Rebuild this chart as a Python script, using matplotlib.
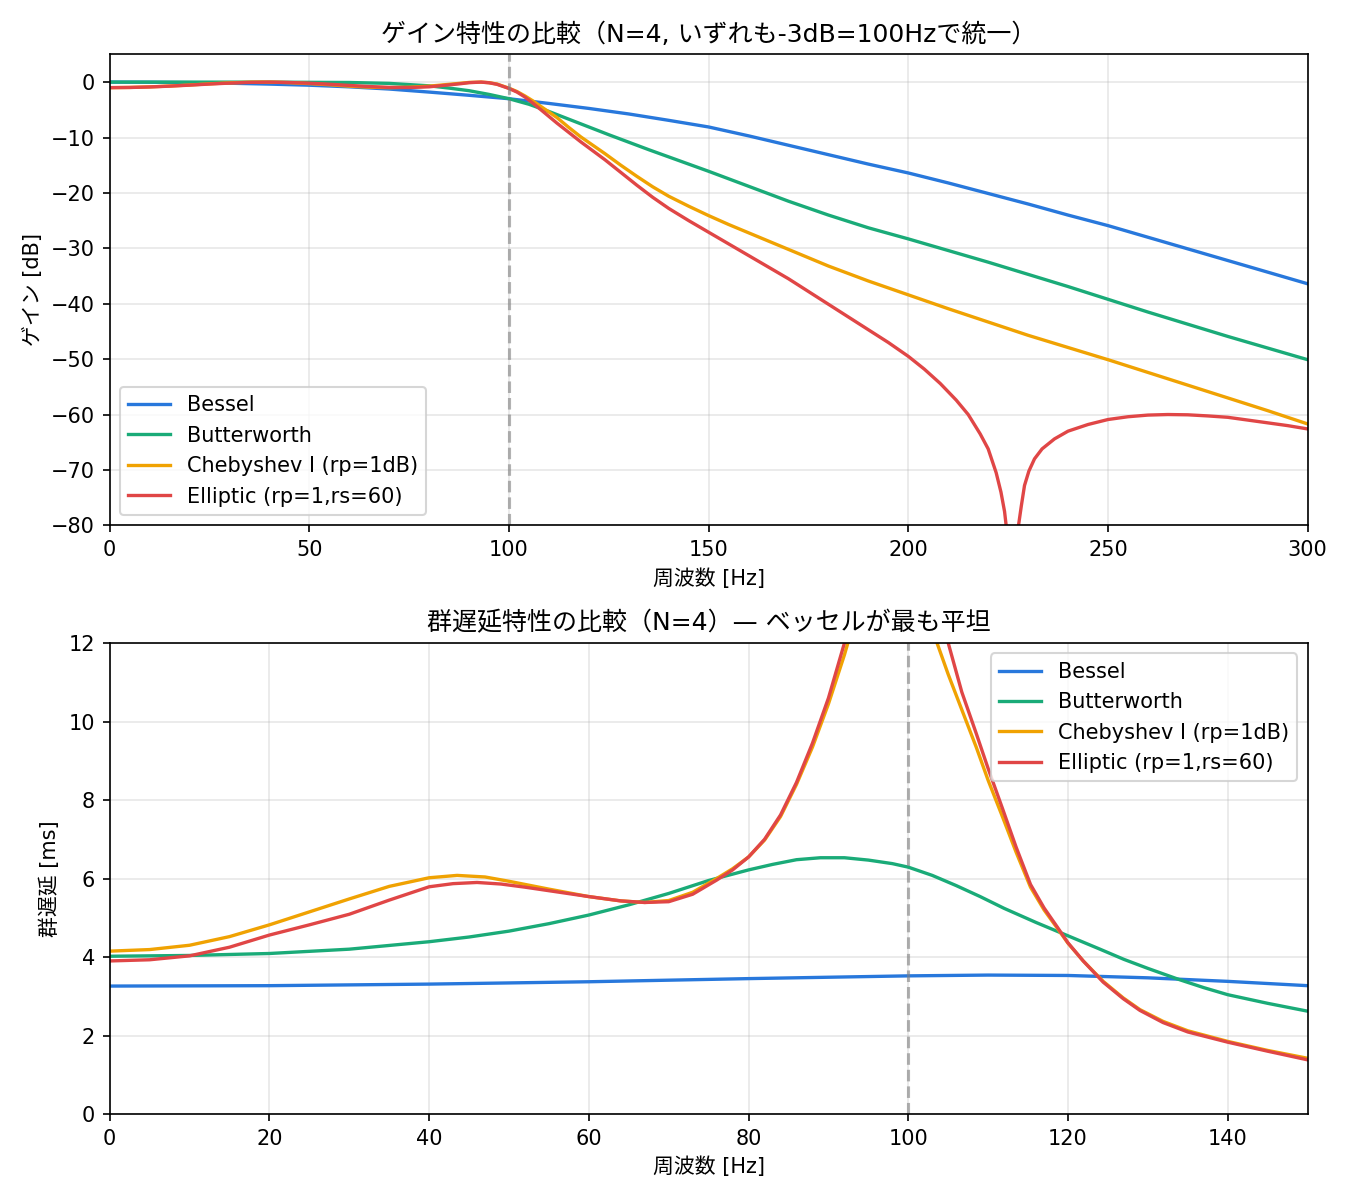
import matplotlib
matplotlib.use('Agg')
import matplotlib.pyplot as plt

# latin en DejaVu, japonais en Noto CJK
plt.rcParams['font.family'] = ['DejaVu Sans', 'Noto Sans CJK JP']
plt.rcParams['axes.unicode_minus'] = True

# couleurs
C_BESSEL = '#2878dc'
C_BUTTER = '#1aab78'
C_CHEBY = '#f0a202'
C_ELLIP = '#e04646'

LABELS = ['Bessel', 'Butterworth', 'Chebyshev I (rp=1dB)', 'Elliptic (rp=1,rs=60)']

# ---- gain [dB] ----
f_bes_g = [0, 10, 20, 30, 40, 50, 60, 70, 80, 90, 100, 110, 120, 130, 140, 150, 160, 170,
           180, 190, 200, 210, 220, 230, 240, 250, 260, 270, 280, 290, 300]
g_bes = [0, -0.02, -0.09, -0.2, -0.36, -0.56, -0.85, -1.25, -1.8, -2.38, -3.0, -3.85, -4.75,
         -5.75, -6.9, -8.1, -9.7, -11.4, -13.1, -14.8, -16.4, -18.2, -20.1, -22.0, -24.0,
         -25.9, -28.0, -30.1, -32.2, -34.3, -36.4]

f_but_g = [0, 20, 40, 60, 70, 80, 85, 90, 95, 100, 105, 110, 115, 120, 125, 130, 135, 140,
           145, 150, 160, 170, 180, 190, 200, 210, 220, 230, 240, 250, 260, 270, 280, 290, 300]
g_but = [0, 0, -0.01, -0.07, -0.23, -0.67, -1.08, -1.55, -2.22, -3.0, -4.0, -5.3, -6.7, -8.1,
         -9.5, -10.85, -12.2, -13.5, -14.8, -16.1, -18.8, -21.5, -24.0, -26.3, -28.3, -30.4,
         -32.5, -34.7, -36.9, -39.2, -41.5, -43.7, -45.9, -48.0, -50.1]

f_che_g = [0, 5, 10, 15, 20, 25, 30, 35, 38, 42, 45, 50, 55, 60, 65, 70, 75, 80, 85, 90, 93,
           95, 97, 100, 102, 104, 106, 108, 110, 112, 115, 118, 121, 124, 128, 132, 136, 140,
           145, 150, 155, 160, 170, 180, 190, 200, 210, 220, 230, 240, 250, 260, 270, 280,
           290, 300]
g_che = [-1.0, -0.96, -0.86, -0.71, -0.52, -0.31, -0.13, -0.02, 0, -0.03, -0.1, -0.27, -0.48,
         -0.73, -0.92, -1.0, -0.92, -0.73, -0.4, -0.06, 0, -0.1, -0.35, -1.1, -1.7, -2.5,
         -3.4, -4.4, -5.4, -6.4, -8.2, -9.9, -11.4, -12.9, -15.0, -17.0, -18.9, -20.6, -22.4,
         -24.1, -25.7, -27.2, -30.2, -33.2, -35.9, -38.4, -40.9, -43.3, -45.7, -47.9, -50.1,
         -52.4, -54.7, -57.0, -59.3, -61.7]

f_ell_g = [0, 5, 10, 15, 20, 25, 30, 35, 40, 45, 50, 55, 60, 65, 70, 75, 80, 85, 88, 90, 93,
           95, 97, 100, 102, 104, 106, 108, 110, 112, 115, 118, 121, 124, 128, 132, 136, 140,
           145, 150, 155, 160, 165, 170, 175, 180, 185, 190, 195, 200, 204, 208, 212, 215,
           218, 220, 222, 223.2, 224.1, 225.3, 226.2, 227.1, 227.6, 228.3, 229.1, 230.2,
           231.6, 233.5, 236.6, 240, 245, 250, 255, 260, 265, 270, 275, 280, 285, 290, 295, 300]
g_ell = [-1.0, -0.97, -0.88, -0.73, -0.55, -0.35, -0.18, -0.05, 0, -0.07, -0.2, -0.38, -0.6,
         -0.8, -0.95, -0.98, -0.85, -0.5, -0.28, -0.1, 0, -0.12, -0.4, -1.15, -1.8, -2.7,
         -3.8, -5.0, -6.2, -7.4, -9.1, -10.8, -12.4, -14.0, -16.3, -18.6, -20.8, -22.8,
         -25.0, -27.1, -29.2, -31.3, -33.4, -35.5, -37.8, -40.1, -42.4, -44.7, -47.0, -49.5,
         -51.8, -54.4, -57.4, -60.0, -63.5, -66.2, -70.5, -74.0, -77.5, -85.0, -110.0,
         -85.0, -80.0, -76.5, -72.8, -70.2, -68.0, -66.2, -64.4, -63.0, -61.8, -60.9, -60.4,
         -60.1, -60.0, -60.05, -60.25, -60.5, -61.0, -61.5, -62.0, -62.6]

# ---- retard de groupe [ms] ----
f_bes_d = [0, 20, 40, 60, 80, 100, 110, 120, 130, 140, 150]
d_bes = [3.26, 3.27, 3.31, 3.37, 3.45, 3.52, 3.54, 3.53, 3.47, 3.38, 3.27]

f_but_d = [0, 10, 20, 30, 40, 45, 50, 55, 60, 65, 70, 75, 80, 83, 86, 89, 92, 95, 98, 100,
           103, 106, 109, 112, 116, 120, 124, 127, 130, 134, 137, 140, 145, 150]
d_but = [4.02, 4.04, 4.09, 4.2, 4.39, 4.51, 4.66, 4.85, 5.07, 5.33, 5.62, 5.95, 6.22, 6.36,
         6.48, 6.53, 6.53, 6.47, 6.38, 6.29, 6.08, 5.82, 5.54, 5.24, 4.88, 4.54, 4.2, 3.94,
         3.71, 3.42, 3.22, 3.04, 2.82, 2.62]

f_che_d = [0, 5, 10, 15, 20, 25, 30, 35, 40, 43.5, 47, 50, 55, 60, 64, 67, 70, 73, 76, 78,
           80, 82, 84, 86, 88, 90, 92, 93, 95, 97, 99, 101, 102.5, 103.6, 105, 106.7, 108.5,
           110, 111.8, 113.5, 115.3, 117, 118.6, 120, 121.9, 124.4, 126.9, 129, 131.9, 135,
           140, 145, 150]
d_che = [4.15, 4.19, 4.3, 4.52, 4.82, 5.15, 5.48, 5.8, 6.02, 6.08, 6.04, 5.93, 5.73, 5.54,
         5.43, 5.39, 5.44, 5.65, 6.0, 6.25, 6.55, 6.98, 7.58, 8.4, 9.35, 10.45, 11.7, 12.4,
         14.0, 15.2, 15.6, 14.8, 13.2, 12.0, 11.2, 10.3, 9.35, 8.5, 7.57, 6.67, 5.78, 5.2,
         4.75, 4.35, 3.9, 3.38, 2.96, 2.66, 2.36, 2.12, 1.85, 1.62, 1.42]

f_ell_d = [0, 5, 10, 15, 20, 25, 30, 35, 40, 43, 46, 49, 52, 56, 60, 64, 67, 70, 73, 76, 78,
           80, 82, 84, 86, 88, 90, 92, 94, 97, 100, 103, 104, 105, 106.7, 108.5, 110, 111.8,
           113.5, 115.3, 117, 118.6, 120, 121.9, 124.4, 126.9, 129, 131.9, 135, 140, 145, 150]
d_ell = [3.9, 3.93, 4.03, 4.25, 4.56, 4.82, 5.09, 5.45, 5.79, 5.87, 5.9, 5.86, 5.78, 5.66,
         5.54, 5.43, 5.39, 5.41, 5.6, 5.96, 6.22, 6.55, 7.0, 7.62, 8.45, 9.45, 10.6, 12.0,
         14.0, 16.5, 17.0, 14.2, 13.0, 12.0, 10.75, 9.7, 8.8, 7.78, 6.8, 5.85, 5.25, 4.78,
         4.36, 3.9, 3.36, 2.94, 2.64, 2.33, 2.09, 1.83, 1.6, 1.38]

FC = 100
LW = 1.6

fig, (ax1, ax2) = plt.subplots(2, 1, figsize=(9, 8), dpi=150)

# gain
ax1.plot(f_bes_g, g_bes, color=C_BESSEL, lw=LW, label=LABELS[0])
ax1.plot(f_but_g, g_but, color=C_BUTTER, lw=LW, label=LABELS[1])
ax1.plot(f_che_g, g_che, color=C_CHEBY, lw=LW, label=LABELS[2])
ax1.plot(f_ell_g, g_ell, color=C_ELLIP, lw=LW, label=LABELS[3])
ax1.axvline(FC, color='gray', ls='--', alpha=0.6)
ax1.set_xlim(0, 300)
ax1.set_ylim(-80, 5)
ax1.set_xlabel('周波数 [Hz]')
ax1.set_ylabel('ゲイン [dB]')
ax1.set_title('ゲイン特性の比較（N=4, いずれも-3dB=100Hzで統一）', fontsize=12)
ax1.grid(alpha=0.3)
ax1.legend(loc='lower left')

# retard de groupe
ax2.plot(f_bes_d, d_bes, color=C_BESSEL, lw=LW, label=LABELS[0])
ax2.plot(f_but_d, d_but, color=C_BUTTER, lw=LW, label=LABELS[1])
ax2.plot(f_che_d, d_che, color=C_CHEBY, lw=LW, label=LABELS[2])
ax2.plot(f_ell_d, d_ell, color=C_ELLIP, lw=LW, label=LABELS[3])
ax2.axvline(FC, color='gray', ls='--', alpha=0.6)
ax2.set_xlim(0, 150)
ax2.set_ylim(0, 12)
ax2.set_xlabel('周波数 [Hz]')
ax2.set_ylabel('群遅延 [ms]')
ax2.set_title('群遅延特性の比較（N=4）— ベッセルが最も平坦', fontsize=12)
ax2.grid(alpha=0.3)
ax2.legend(loc='upper right')

plt.tight_layout()
plt.savefig('out.png')
